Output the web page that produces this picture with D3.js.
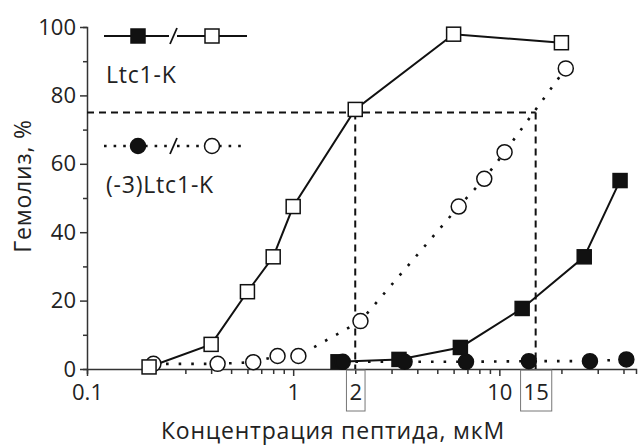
<!DOCTYPE html>
<html>
<head>
<meta charset="utf-8">
<script src="https://cdn.jsdelivr.net/npm/d3@7"></script>
<style>
	body { margin: 0; background: #fff; }
	text { font-family: "Open Sans", Lato, sans-serif; fill: #222; }
	.label { letter-spacing: 0.8px; }
</style>
</head>
<body>
<div id="chart"></div>
<script>
// данные (концентрация, мкМ / гемолиз, %)
const sqOpenX = [0.2, 0.4, 0.6, 0.8, 1, 2, 6, 20];
const sqOpenY = [0.6, 7.2, 22.6, 32.8, 47.5, 75.9, 97.9, 95.4];
const sqFillX = [1.65, 3.26, 6.47, 12.9, 25.8, 38.5];
const sqFillY = [2.1, 2.8, 6.3, 17.7, 32.8, 55.1];
const ciOpenX = [0.21, 0.43, 0.64, 0.84, 1.06, 2.12, 6.35, 8.45, 10.6, 21];
const ciOpenY = [1.5, 1.5, 2, 3.8, 3.8, 14, 47.5, 55.6, 63.4, 87.9];
const ciFillX = [1.74, 3.47, 6.89, 13.9, 27.5, 41.3];
const ciFillY = [2.1, 2.1, 2.1, 2.3, 2.3, 2.8];

const majorTicksX = [0.1, 1, 10];
const minorTicksX = [0.2, 0.3, 0.4, 0.5, 0.6, 0.7, 0.8, 0.9, 2, 3, 4, 5, 6, 7, 8, 9, 20, 30, 40];
const boxedTicksX = [2, 15];
const majorTicksY = [0, 20, 40, 60, 80, 100];
const minorTicksY = [10, 30, 50, 70, 90];
const refLevel = 75;
const legendNames = ["Ltc1-K", "(-3)Ltc1-K"];

const width = 638;
const height = 445;
const fs = 22;
const fsLabel = 23;

const svg = d3.select('#chart')
	.append('svg')
	.attr('width', width)
	.attr('height', height);

const x = d3.scaleLog()
	.domain([0.1, 46])
	.range([87, 636]);

const y = d3.scaleLinear()
	.domain([0, 100])
	.range([369, 27]);

const zip = (xs, ys) => xs.map((v, i) => ({ x: v, y: ys[i] }));

// оси
function styleAxis(g) {
	g.select('.domain').attr('stroke', '#333').attr('stroke-width', 1.5);
	g.selectAll('.tick line').attr('stroke', '#333').attr('stroke-width', 1.5);
	g.selectAll('.tick text').attr('font-size', fs).attr('fill', '#222');
}

svg.append('g')
	.attr('transform', `translate(0,${y(0)})`)
	.call(d3.axisBottom(x).tickValues(minorTicksX).tickSize(5).tickFormat(''))
	.call(styleAxis);

svg.append('g')
	.attr('transform', `translate(0,${y(0)})`)
	.call(d3.axisBottom(x).tickValues(majorTicksX).tickSize(7).tickPadding(8).tickFormat(d3.format('')))
	.call(styleAxis)
	.call(g => g.select('.domain').remove());

const boxed = svg.append('g')
	.attr('transform', `translate(0,${y(0)})`)
	.call(d3.axisBottom(x).tickValues(boxedTicksX).tickSize(0).tickPadding(15).tickFormat(d3.format('')))
	.call(styleAxis)
	.call(g => g.select('.domain').remove());

boxed.selectAll('.tick').each(function () {
	const t = d3.select(this);
	const b = t.select('text').node().getBBox();
	t.insert('rect', 'text')
		.attr('x', b.x - 3)
		.attr('y', 1)
		.attr('width', b.width + 6)
		.attr('height', 41)
		.attr('fill', 'none')
		.attr('stroke', '#777')
		.attr('stroke-width', 1);
});

svg.append('g')
	.attr('transform', `translate(${x(0.1)},0)`)
	.call(d3.axisLeft(y).tickValues(minorTicksY).tickSize(4).tickFormat(''))
	.call(styleAxis);

svg.append('g')
	.attr('transform', `translate(${x(0.1)},0)`)
	.call(d3.axisLeft(y).tickValues(majorTicksY).tickSize(7).tickPadding(4))
	.call(styleAxis)
	.call(g => g.select('.domain').remove());

// подписи осей
svg.append('text')
	.attr('class', 'label')
	.attr('x', 333)
	.attr('y', 439)
	.attr('text-anchor', 'middle')
	.attr('font-size', fsLabel)
	.text('Концентрация пептида, мкМ');

svg.append('text')
	.attr('class', 'label')
	.attr('transform', 'translate(31,186) rotate(-90)')
	.attr('text-anchor', 'middle')
	.attr('font-size', fsLabel)
	.text('Гемолиз, %');

// пунктир 75 %
const refX = boxedTicksX;
const dash = svg.append('g')
	.attr('stroke', '#111')
	.attr('stroke-width', 2)
	.attr('stroke-dasharray', '7 5')
	.attr('fill', 'none');

dash.append('line')
	.attr('x1', x(0.1)).attr('x2', x(refX[1]))
	.attr('y1', y(refLevel)).attr('y2', y(refLevel));

refX.forEach(v => {
	dash.append('line')
		.attr('x1', x(v)).attr('x2', x(v))
		.attr('y1', y(refLevel)).attr('y2', y(0));
});

// линии
const line = d3.line().x(d => x(d.x)).y(d => y(d.y));

function drawLine(data, dotted) {
	svg.append('path')
		.datum(data)
		.attr('d', line)
		.attr('fill', 'none')
		.attr('stroke', '#111')
		.attr('stroke-width', dotted ? 2.6 : 2)
		.attr('stroke-dasharray', dotted ? '2.6 10' : null);
}

drawLine(zip(ciOpenX, ciOpenY), true);
drawLine(zip(ciFillX, ciFillY), true);
drawLine(zip(sqOpenX, sqOpenY), false);
drawLine(zip(sqFillX, sqFillY), false);

// маркеры
const sq = 14;
const r = 7.5;

function squares(data, filled) {
	svg.append('g').selectAll('rect')
		.data(data)
		.join('rect')
		.attr('x', d => x(d.x) - sq / 2)
		.attr('y', d => y(d.y) - sq / 2)
		.attr('width', sq)
		.attr('height', sq)
		.attr('fill', filled ? '#111' : '#fff')
		.attr('stroke', '#111')
		.attr('stroke-width', 1.5);
}

function circles(data, filled) {
	svg.append('g').selectAll('circle')
		.data(data)
		.join('circle')
		.attr('cx', d => x(d.x))
		.attr('cy', d => y(d.y))
		.attr('r', r)
		.attr('fill', filled ? '#111' : '#fff')
		.attr('stroke', '#111')
		.attr('stroke-width', 1.5);
}

circles(zip(ciOpenX, ciOpenY), false);
squares(zip(sqOpenX, sqOpenY), false);
squares(zip(sqFillX, sqFillY), true);
circles(zip(ciFillX, ciFillY), true);

// легенда
const leg = svg.append('g');

function legendRow(yy, dotted, shape) {
	const g = leg.append('g')
		.attr('stroke', '#111')
		.attr('fill', 'none')
		.attr('stroke-width', dotted ? 2.6 : 2)
		.attr('stroke-dasharray', dotted ? '2.6 7' : null);
	[[104, 131], [145, 169], [177, 205], [219, 247]].forEach(([a, b]) => {
		g.append('line').attr('x1', a).attr('x2', b).attr('y1', yy).attr('y2', yy);
	});
	leg.append('line')
		.attr('x1', 170).attr('y1', yy + 8)
		.attr('x2', 177).attr('y2', yy - 8)
		.attr('stroke', '#111')
		.attr('stroke-width', 1.8);
	[[138, true], [212, false]].forEach(([cx, filled]) => {
		if (shape === 'sq') {
			leg.append('rect')
				.attr('x', cx - sq / 2).attr('y', yy - sq / 2)
				.attr('width', sq).attr('height', sq)
				.attr('fill', filled ? '#111' : '#fff')
				.attr('stroke', '#111').attr('stroke-width', 1.5);
		} else {
			leg.append('circle')
				.attr('cx', cx).attr('cy', yy).attr('r', r)
				.attr('fill', filled ? '#111' : '#fff')
				.attr('stroke', '#111').attr('stroke-width', 1.5);
		}
	});
}

legendRow(36, false, 'sq');
legendRow(146, true, 'ci');

leg.append('text')
	.attr('class', 'label')
	.attr('x', 106).attr('y', 83)
	.attr('font-size', fsLabel)
	.text(legendNames[0]);

leg.append('text')
	.attr('class', 'label')
	.attr('x', 106).attr('y', 193)
	.attr('font-size', fsLabel)
	.text(legendNames[1]);
</script>
</body>
</html>
